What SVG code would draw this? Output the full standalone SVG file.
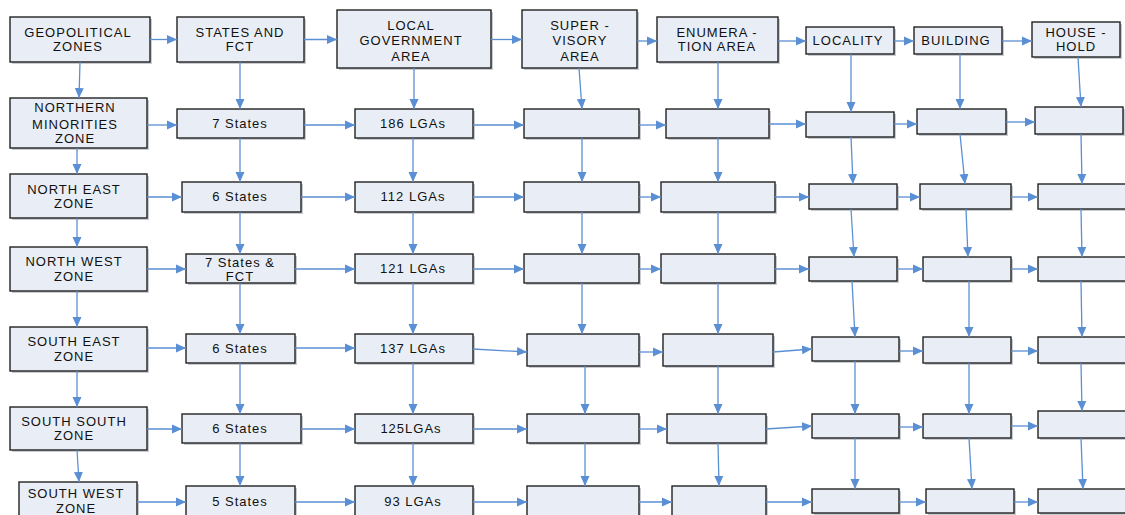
<svg xmlns="http://www.w3.org/2000/svg" width="1125" height="515" viewBox="0 0 1125 515">
<style>
.b{fill:#e9eef6;stroke:#222;stroke-width:1.4}
.sh{fill:#c9cdd3}
.t{font-family:"Liberation Sans",Arial,sans-serif;font-size:13px;fill:#111;text-anchor:middle;letter-spacing:1px}
.c line{stroke:#5b8fd4;stroke-width:1.3;fill:none;marker-end:url(#ah)}
</style>
<defs>
<marker id="ah" markerUnits="userSpaceOnUse" markerWidth="10" markerHeight="10" refX="10" refY="5" orient="auto"><path d="M0,0.5 L10,5 L0,9.5 z" fill="#5b8fd4"/></marker>
</defs>
<rect width="1125" height="515" fill="#fff"/>
<!-- header row -->
<g id="n_geo"><rect class="sh" x="12" y="19" width="140" height="45"/><rect class="b" x="10" y="17" width="140" height="45"/><text class="t" x="78" y="37">GEOPOLITICAL</text><text class="t" x="78" y="51">ZONES</text></g>
<g id="n_states"><rect class="sh" x="179" y="19" width="127" height="45"/><rect class="b" x="177" y="17" width="127" height="45"/><text class="t" x="240" y="37">STATES AND</text><text class="t" x="240" y="51">FCT</text></g>
<g id="n_lga"><rect class="sh" x="339" y="12" width="154" height="58"/><rect class="b" x="337" y="10" width="154" height="58"/><text class="t" x="411" y="30">LOCAL</text><text class="t" x="411" y="45">GOVERNMENT</text><text class="t" x="411" y="61">AREA</text></g>
<g id="n_sup"><rect class="sh" x="524" y="12" width="115" height="58"/><rect class="b" x="522" y="10" width="115" height="58"/><text class="t" x="580" y="30">SUPER -</text><text class="t" x="580" y="45">VISORY</text><text class="t" x="580" y="61">AREA</text></g>
<g id="n_enum"><rect class="sh" x="659" y="19" width="121" height="45"/><rect class="b" x="657" y="17" width="121" height="45"/><text class="t" x="717" y="37">ENUMERA -</text><text class="t" x="717" y="51">TION AREA</text></g>
<g id="n_loc"><rect class="sh" x="808" y="29" width="88" height="27"/><rect class="b" x="806" y="27" width="88" height="27"/><text class="t" x="848" y="45">LOCALITY</text></g>
<g id="n_bld"><rect class="sh" x="916" y="29" width="88" height="27"/><rect class="b" x="914" y="27" width="88" height="27"/><text class="t" x="956" y="45">BUILDING</text></g>
<g id="n_hh"><rect class="sh" x="1034" y="24" width="88" height="35"/><rect class="b" x="1032" y="22" width="88" height="35"/><text class="t" x="1076" y="37">HOUSE -</text><text class="t" x="1076" y="51">HOLD</text></g>
<!-- row 1 -->
<g id="z1"><rect class="sh" x="12" y="100" width="137" height="50"/><rect class="b" x="10" y="98" width="137" height="50"/><text class="t" x="75" y="112">NORTHERN</text><text class="t" x="75" y="129">MINORITIES</text><text class="t" x="75" y="143">ZONE</text></g>
<g id="s1"><rect class="sh" x="179" y="111" width="127" height="29"/><rect class="b" x="177" y="109" width="127" height="29"/><text class="t" x="240" y="128">7 States</text></g>
<g id="l1"><rect class="sh" x="357" y="111" width="118" height="29"/><rect class="b" x="355" y="109" width="118" height="29"/><text class="t" x="413" y="128">186 LGAs</text></g>
<g id="sup1"><rect class="sh" x="526" y="111" width="115" height="29"/><rect class="b" x="524" y="109" width="115" height="29"/></g>
<g id="e1"><rect class="sh" x="668" y="111" width="103" height="29"/><rect class="b" x="666" y="109" width="103" height="29"/></g>
<g id="loc1"><rect class="sh" x="808" y="114" width="88" height="25"/><rect class="b" x="806" y="112" width="88" height="25"/></g>
<g id="b1"><rect class="sh" x="919" y="111" width="89" height="25"/><rect class="b" x="917" y="109" width="89" height="25"/></g>
<g id="h1"><rect class="sh" x="1037" y="109" width="88" height="27"/><rect class="b" x="1035" y="107" width="88" height="27"/></g>
<!-- row 2 -->
<g id="z2"><rect class="sh" x="12" y="176" width="137" height="44"/><rect class="b" x="10" y="174" width="137" height="44"/><text class="t" x="74" y="194">NORTH EAST</text><text class="t" x="74" y="208">ZONE</text></g>
<g id="s2"><rect class="sh" x="184" y="184" width="119" height="30"/><rect class="b" x="182" y="182" width="119" height="30"/><text class="t" x="240" y="201">6 States</text></g>
<g id="l2"><rect class="sh" x="357" y="184" width="118" height="30"/><rect class="b" x="355" y="182" width="118" height="30"/><text class="t" x="413" y="201">112 LGAs</text></g>
<g id="sup2"><rect class="sh" x="526" y="184" width="115" height="30"/><rect class="b" x="524" y="182" width="115" height="30"/></g>
<g id="e2"><rect class="sh" x="663" y="184" width="114" height="30"/><rect class="b" x="661" y="182" width="114" height="30"/></g>
<g id="loc2"><rect class="sh" x="811" y="186" width="88" height="25"/><rect class="b" x="809" y="184" width="88" height="25"/></g>
<g id="b2"><rect class="sh" x="922" y="186" width="91" height="25"/><rect class="b" x="920" y="184" width="91" height="25"/></g>
<g id="h2"><rect class="sh" x="1040" y="186" width="90" height="25"/><rect class="b" x="1038" y="184" width="90" height="25"/></g>
<!-- row 3 -->
<g id="z3"><rect class="sh" x="12" y="249" width="137" height="44"/><rect class="b" x="10" y="247" width="137" height="44"/><text class="t" x="74" y="266">NORTH WEST</text><text class="t" x="74" y="281">ZONE</text></g>
<g id="s3"><rect class="sh" x="188" y="256" width="109" height="29"/><rect class="b" x="186" y="254" width="109" height="29"/><text class="t" x="240" y="267">7  States &amp;</text><text class="t" x="240" y="281">FCT</text></g>
<g id="l3"><rect class="sh" x="357" y="256" width="118" height="29"/><rect class="b" x="355" y="254" width="118" height="29"/><text class="t" x="413" y="273">121 LGAs</text></g>
<g id="sup3"><rect class="sh" x="526" y="256" width="115" height="29"/><rect class="b" x="524" y="254" width="115" height="29"/></g>
<g id="e3"><rect class="sh" x="663" y="256" width="114" height="29"/><rect class="b" x="661" y="254" width="114" height="29"/></g>
<g id="loc3"><rect class="sh" x="811" y="259" width="88" height="24"/><rect class="b" x="809" y="257" width="88" height="24"/></g>
<g id="b3"><rect class="sh" x="925" y="259" width="88" height="24"/><rect class="b" x="923" y="257" width="88" height="24"/></g>
<g id="h3"><rect class="sh" x="1040" y="259" width="90" height="24"/><rect class="b" x="1038" y="257" width="90" height="24"/></g>
<!-- row 4 -->
<g id="z4"><rect class="sh" x="12" y="329" width="137" height="44"/><rect class="b" x="10" y="327" width="137" height="44"/><text class="t" x="74" y="346">SOUTH EAST</text><text class="t" x="74" y="361">ZONE</text></g>
<g id="s4"><rect class="sh" x="188" y="336" width="109" height="29"/><rect class="b" x="186" y="334" width="109" height="29"/><text class="t" x="240" y="353">6 States</text></g>
<g id="l4"><rect class="sh" x="357" y="336" width="118" height="29"/><rect class="b" x="355" y="334" width="118" height="29"/><text class="t" x="413" y="353">137 LGAs</text></g>
<g id="sup4"><rect class="sh" x="529" y="336" width="112" height="32"/><rect class="b" x="527" y="334" width="112" height="32"/></g>
<g id="e4"><rect class="sh" x="665" y="336" width="110" height="32"/><rect class="b" x="663" y="334" width="110" height="32"/></g>
<g id="loc4"><rect class="sh" x="814" y="339" width="87" height="24"/><rect class="b" x="812" y="337" width="87" height="24"/></g>
<g id="b4"><rect class="sh" x="925" y="339" width="88" height="26"/><rect class="b" x="923" y="337" width="88" height="26"/></g>
<g id="h4"><rect class="sh" x="1040" y="339" width="90" height="26"/><rect class="b" x="1038" y="337" width="90" height="26"/></g>
<!-- row 5 -->
<g id="z5"><rect class="sh" x="12" y="409" width="137" height="43"/><rect class="b" x="10" y="407" width="137" height="43"/><text class="t" x="74" y="426">SOUTH SOUTH</text><text class="t" x="74" y="440">ZONE</text></g>
<g id="s5"><rect class="sh" x="184" y="416" width="119" height="29"/><rect class="b" x="182" y="414" width="119" height="29"/><text class="t" x="240" y="433">6 States</text></g>
<g id="l5"><rect class="sh" x="357" y="416" width="118" height="29"/><rect class="b" x="355" y="414" width="118" height="29"/><text class="t" x="411" y="433">125LGAs</text></g>
<g id="sup5"><rect class="sh" x="529" y="416" width="112" height="29"/><rect class="b" x="527" y="414" width="112" height="29"/></g>
<g id="e5"><rect class="sh" x="669" y="416" width="99" height="29"/><rect class="b" x="667" y="414" width="99" height="29"/></g>
<g id="loc5"><rect class="sh" x="814" y="416" width="87" height="24"/><rect class="b" x="812" y="414" width="87" height="24"/></g>
<g id="b5"><rect class="sh" x="925" y="416" width="88" height="24"/><rect class="b" x="923" y="414" width="88" height="24"/></g>
<g id="h5"><rect class="sh" x="1040" y="413" width="90" height="27"/><rect class="b" x="1038" y="411" width="90" height="27"/></g>
<!-- row 6 -->
<g id="z6"><rect class="sh" x="21" y="484" width="118" height="40"/><rect class="b" x="19" y="482" width="118" height="40"/><text class="t" x="76" y="498">SOUTH WEST</text><text class="t" x="76" y="513">ZONE</text></g>
<g id="s6"><rect class="sh" x="188" y="488" width="109" height="35"/><rect class="b" x="186" y="486" width="109" height="35"/><text class="t" x="240" y="506">5 States</text></g>
<g id="l6"><rect class="sh" x="357" y="488" width="118" height="35"/><rect class="b" x="355" y="486" width="118" height="35"/><text class="t" x="413" y="506">93  LGAs</text></g>
<g id="sup6"><rect class="sh" x="529" y="488" width="112" height="35"/><rect class="b" x="527" y="486" width="112" height="35"/></g>
<g id="e6"><rect class="sh" x="674" y="488" width="94" height="35"/><rect class="b" x="672" y="486" width="94" height="35"/></g>
<g id="loc6"><rect class="sh" x="814" y="491" width="87" height="24"/><rect class="b" x="812" y="489" width="87" height="24"/></g>
<g id="b6"><rect class="sh" x="928" y="491" width="88" height="24"/><rect class="b" x="926" y="489" width="88" height="24"/></g>
<g id="h6"><rect class="sh" x="1040" y="491" width="90" height="24"/><rect class="b" x="1038" y="489" width="90" height="24"/></g>
<g id="connectors" class="c">
<!-- header horizontals -->
<line x1="150" y1="39.5" x2="177" y2="39.5"/>
<line x1="304" y1="39.5" x2="337" y2="39.5"/>
<line x1="491" y1="39.5" x2="522" y2="39.5"/>
<line x1="637" y1="41" x2="657" y2="41"/>
<line x1="778" y1="41" x2="806" y2="41"/>
<line x1="894" y1="41" x2="914" y2="41"/>
<line x1="1002" y1="41" x2="1032" y2="41"/>
<!-- header verticals -->
<line x1="80" y1="62" x2="79" y2="98"/>
<line x1="240" y1="62" x2="240" y2="109"/>
<line x1="414" y1="68" x2="414" y2="109"/>
<line x1="579" y1="68" x2="582" y2="109"/>
<line x1="718" y1="62" x2="718" y2="109"/>
<line x1="851" y1="54" x2="851" y2="112"/>
<line x1="960" y1="54" x2="960" y2="109"/>
<line x1="1078" y1="57" x2="1081" y2="107"/>
<!-- row1 horizontals -->
<line x1="147" y1="125" x2="177" y2="125"/>
<line x1="304" y1="125" x2="355" y2="125"/>
<line x1="473" y1="125" x2="524" y2="125"/>
<line x1="639" y1="125" x2="666" y2="125"/>
<line x1="769" y1="124" x2="806" y2="124"/>
<line x1="894" y1="124" x2="917" y2="124"/>
<line x1="1006" y1="122" x2="1035" y2="122"/>
<!-- row1->row2 -->
<line x1="77" y1="148" x2="77" y2="174"/>
<line x1="240" y1="138" x2="240" y2="182"/>
<line x1="413" y1="138" x2="413" y2="182"/>
<line x1="582" y1="138" x2="582" y2="182"/>
<line x1="718" y1="138" x2="718" y2="182"/>
<line x1="851" y1="137" x2="853" y2="184"/>
<line x1="960" y1="134" x2="965" y2="184"/>
<line x1="1081" y1="134" x2="1082" y2="184"/>
<!-- row2 horizontals -->
<line x1="147" y1="197" x2="182" y2="197"/>
<line x1="301" y1="197" x2="355" y2="197"/>
<line x1="473" y1="197" x2="524" y2="197"/>
<line x1="639" y1="197" x2="661" y2="197"/>
<line x1="775" y1="197" x2="809" y2="197"/>
<line x1="897" y1="197" x2="920" y2="197"/>
<line x1="1011" y1="197" x2="1038" y2="197"/>
<!-- row2->row3 -->
<line x1="77" y1="218" x2="77" y2="247"/>
<line x1="240" y1="212" x2="240" y2="254"/>
<line x1="413" y1="212" x2="413" y2="254"/>
<line x1="582" y1="212" x2="582" y2="254"/>
<line x1="718" y1="212" x2="718" y2="254"/>
<line x1="851" y1="209" x2="854" y2="257"/>
<line x1="966" y1="209" x2="968" y2="257"/>
<line x1="1081" y1="209" x2="1082" y2="257"/>
<!-- row3 horizontals -->
<line x1="147" y1="269" x2="186" y2="269"/>
<line x1="295" y1="269" x2="355" y2="269"/>
<line x1="473" y1="269" x2="524" y2="269"/>
<line x1="639" y1="269" x2="661" y2="269"/>
<line x1="775" y1="269" x2="809" y2="269"/>
<line x1="897" y1="269" x2="923" y2="269"/>
<line x1="1011" y1="269" x2="1038" y2="269"/>
<!-- row3->row4 -->
<line x1="77" y1="291" x2="77" y2="327"/>
<line x1="240" y1="283" x2="240" y2="334"/>
<line x1="413" y1="283" x2="413" y2="334"/>
<line x1="582" y1="283" x2="582" y2="334"/>
<line x1="718" y1="283" x2="718" y2="334"/>
<line x1="852" y1="281" x2="855" y2="337"/>
<line x1="969" y1="281" x2="969" y2="337"/>
<line x1="1081" y1="281" x2="1082" y2="337"/>
<!-- row4 horizontals -->
<line x1="147" y1="348" x2="186" y2="348"/>
<line x1="295" y1="348" x2="355" y2="348"/>
<line x1="473" y1="349" x2="527" y2="352"/>
<line x1="639" y1="352" x2="663" y2="352"/>
<line x1="773" y1="352" x2="812" y2="349"/>
<line x1="899" y1="351" x2="923" y2="351"/>
<line x1="1011" y1="351" x2="1038" y2="351"/>
<!-- row4->row5 -->
<line x1="77" y1="371" x2="77" y2="407"/>
<line x1="240" y1="363" x2="240" y2="414"/>
<line x1="413" y1="363" x2="413" y2="414"/>
<line x1="585" y1="366" x2="585" y2="414"/>
<line x1="718" y1="366" x2="718" y2="414"/>
<line x1="855" y1="361" x2="855" y2="414"/>
<line x1="969" y1="363" x2="969" y2="414"/>
<line x1="1081" y1="363" x2="1082" y2="411"/>
<!-- row5 horizontals -->
<line x1="147" y1="429" x2="182" y2="429"/>
<line x1="301" y1="429" x2="355" y2="429"/>
<line x1="473" y1="429" x2="527" y2="429"/>
<line x1="639" y1="429" x2="667" y2="429"/>
<line x1="766" y1="429" x2="812" y2="426"/>
<line x1="899" y1="427" x2="923" y2="427"/>
<line x1="1011" y1="426" x2="1038" y2="426"/>
<!-- row5->row6 -->
<line x1="77" y1="450" x2="79" y2="482"/>
<line x1="240" y1="443" x2="240" y2="486"/>
<line x1="413" y1="443" x2="413" y2="486"/>
<line x1="585" y1="443" x2="585" y2="486"/>
<line x1="718" y1="443" x2="719" y2="486"/>
<line x1="855" y1="438" x2="855" y2="489"/>
<line x1="969" y1="438" x2="972" y2="489"/>
<line x1="1081" y1="438" x2="1083" y2="489"/>
<!-- row6 horizontals -->
<line x1="137" y1="502" x2="186" y2="502"/>
<line x1="295" y1="502" x2="355" y2="502"/>
<line x1="473" y1="502" x2="527" y2="502"/>
<line x1="639" y1="502" x2="672" y2="502"/>
<line x1="766" y1="502" x2="812" y2="502"/>
<line x1="899" y1="502" x2="926" y2="502"/>
<line x1="1014" y1="502" x2="1038" y2="502"/>
</g>
</svg>
